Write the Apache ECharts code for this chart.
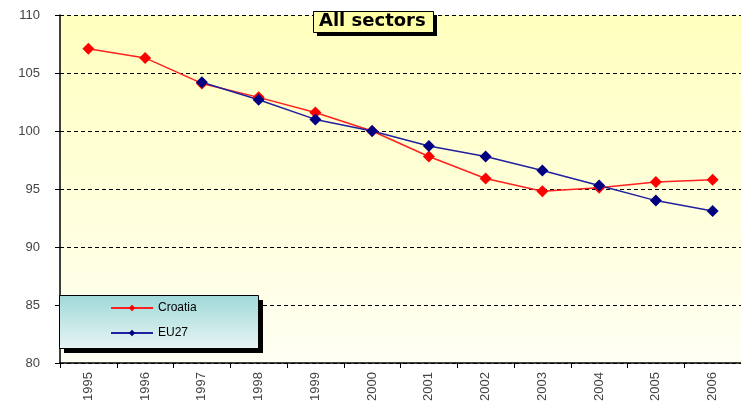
<!DOCTYPE html>
<html>
<head>
<meta charset="utf-8">
<script src="https://cdn.jsdelivr.net/npm/echarts@6/dist/echarts.min.js"></script>
<style>
  html, body { margin: 0; padding: 0; background: #fff; }
  #chart { width: 741px; height: 406px; }
</style>
</head>
<body>
<div id="chart"></div>
<script>
const years = ['1995', '1996', '1997', '1998', '1999', '2000', '2001', '2002', '2003', '2004', '2005', '2006'];
const croatia = [107.1, 106.3, 104.1, 102.9, 101.6, 100.0, 97.8, 95.9, 94.8, 95.1, 95.6, 95.8];
const eu27 = [null, null, 104.2, 102.7, 101.0, 100.0, 98.7, 97.8, 96.6, 95.3, 94.0, 93.1];

const chart = echarts.init(document.getElementById('chart'));

// boxes with hard drop shadows (title + legend), drawn under the texts
const boxes = [
  { x: 313, y: 11, w: 120, h: 21, off: 4, fill: '#FFFFA8' },
  {
    x: 59, y: 295, w: 199, h: 53, off: 5,
    fill: {
      type: 'linear', x: 0, y: 0, x2: 0, y2: 1,
      colorStops: [
        { offset: 0, color: '#A0D8D8' },
        { offset: 1, color: '#E8F5F5' },
      ],
    },
  },
];
const graphic = [];
boxes.forEach((b) => {
  graphic.push({
    type: 'rect', z: 10,
    shape: { x: b.x + b.off, y: b.y + b.off, width: b.w, height: b.h },
    style: { fill: '#000' },
  });
  graphic.push({
    type: 'rect', z: 11,
    shape: { x: b.x + 0.5, y: b.y + 0.5, width: b.w, height: b.h },
    style: { fill: b.fill, stroke: '#000', lineWidth: 1 },
  });
});

chart.setOption({
  animation: false,
  textStyle: { fontFamily: 'Liberation Sans, Arial, sans-serif' },
  graphic,
  title: {
    text: 'All sectors',
    left: 319,
    top: 12,
    padding: 0,
    z: 20,
    textStyle: { fontSize: 18, fontWeight: 'bold', color: '#000', fontFamily: 'DejaVu Sans' },
  },
  legend: {
    orient: 'vertical',
    left: 110,
    top: 302,
    padding: 0,
    z: 20,
    itemGap: 13,
    itemWidth: 42,
    itemHeight: 8,
    textStyle: { fontSize: 12, color: '#000' },
    data: ['Croatia', 'EU27'],
  },
  grid: {
    show: true,
    left: 60,
    right: -1,
    top: 15,
    bottom: 43,
    borderWidth: 0,
    backgroundColor: {
      type: 'linear', x: 0, y: 0, x2: 0, y2: 1,
      colorStops: [
        { offset: 0, color: '#FFFFBE' },
        { offset: 1, color: '#FFFFF4' },
      ],
    },
  },
  xAxis: {
    type: 'category',
    data: years,
    boundaryGap: true,
    axisLine: { lineStyle: { color: '#000', width: 1.5 } },
    axisTick: { show: true, length: 5, lineStyle: { color: '#000' } },
    axisLabel: { rotate: 90, color: '#444', fontSize: 13, margin: 9 },
  },
  yAxis: {
    type: 'value',
    min: 80,
    max: 110,
    interval: 5,
    axisLine: { show: true, lineStyle: { color: '#000', width: 1.5 } },
    axisTick: { show: true, length: 5, lineStyle: { color: '#000' } },
    axisLabel: { color: '#444', fontSize: 13, margin: 20 },
    splitLine: { lineStyle: { color: '#000', type: [4, 3], width: 1 } },
  },
  series: [
    {
      name: 'Croatia',
      type: 'line',
      data: croatia,
      symbol: 'diamond',
      symbolSize: 12,
      color: '#FF0000',
      lineStyle: { width: 1.5, color: '#FF2020' },
      itemStyle: { color: '#FF0000' },
    },
    {
      name: 'EU27',
      type: 'line',
      data: eu27,
      symbol: 'diamond',
      symbolSize: 12,
      color: '#000080',
      lineStyle: { width: 1.5, color: '#2020A0' },
      itemStyle: { color: '#000080' },
    },
  ],
});
</script>
</body>
</html>
